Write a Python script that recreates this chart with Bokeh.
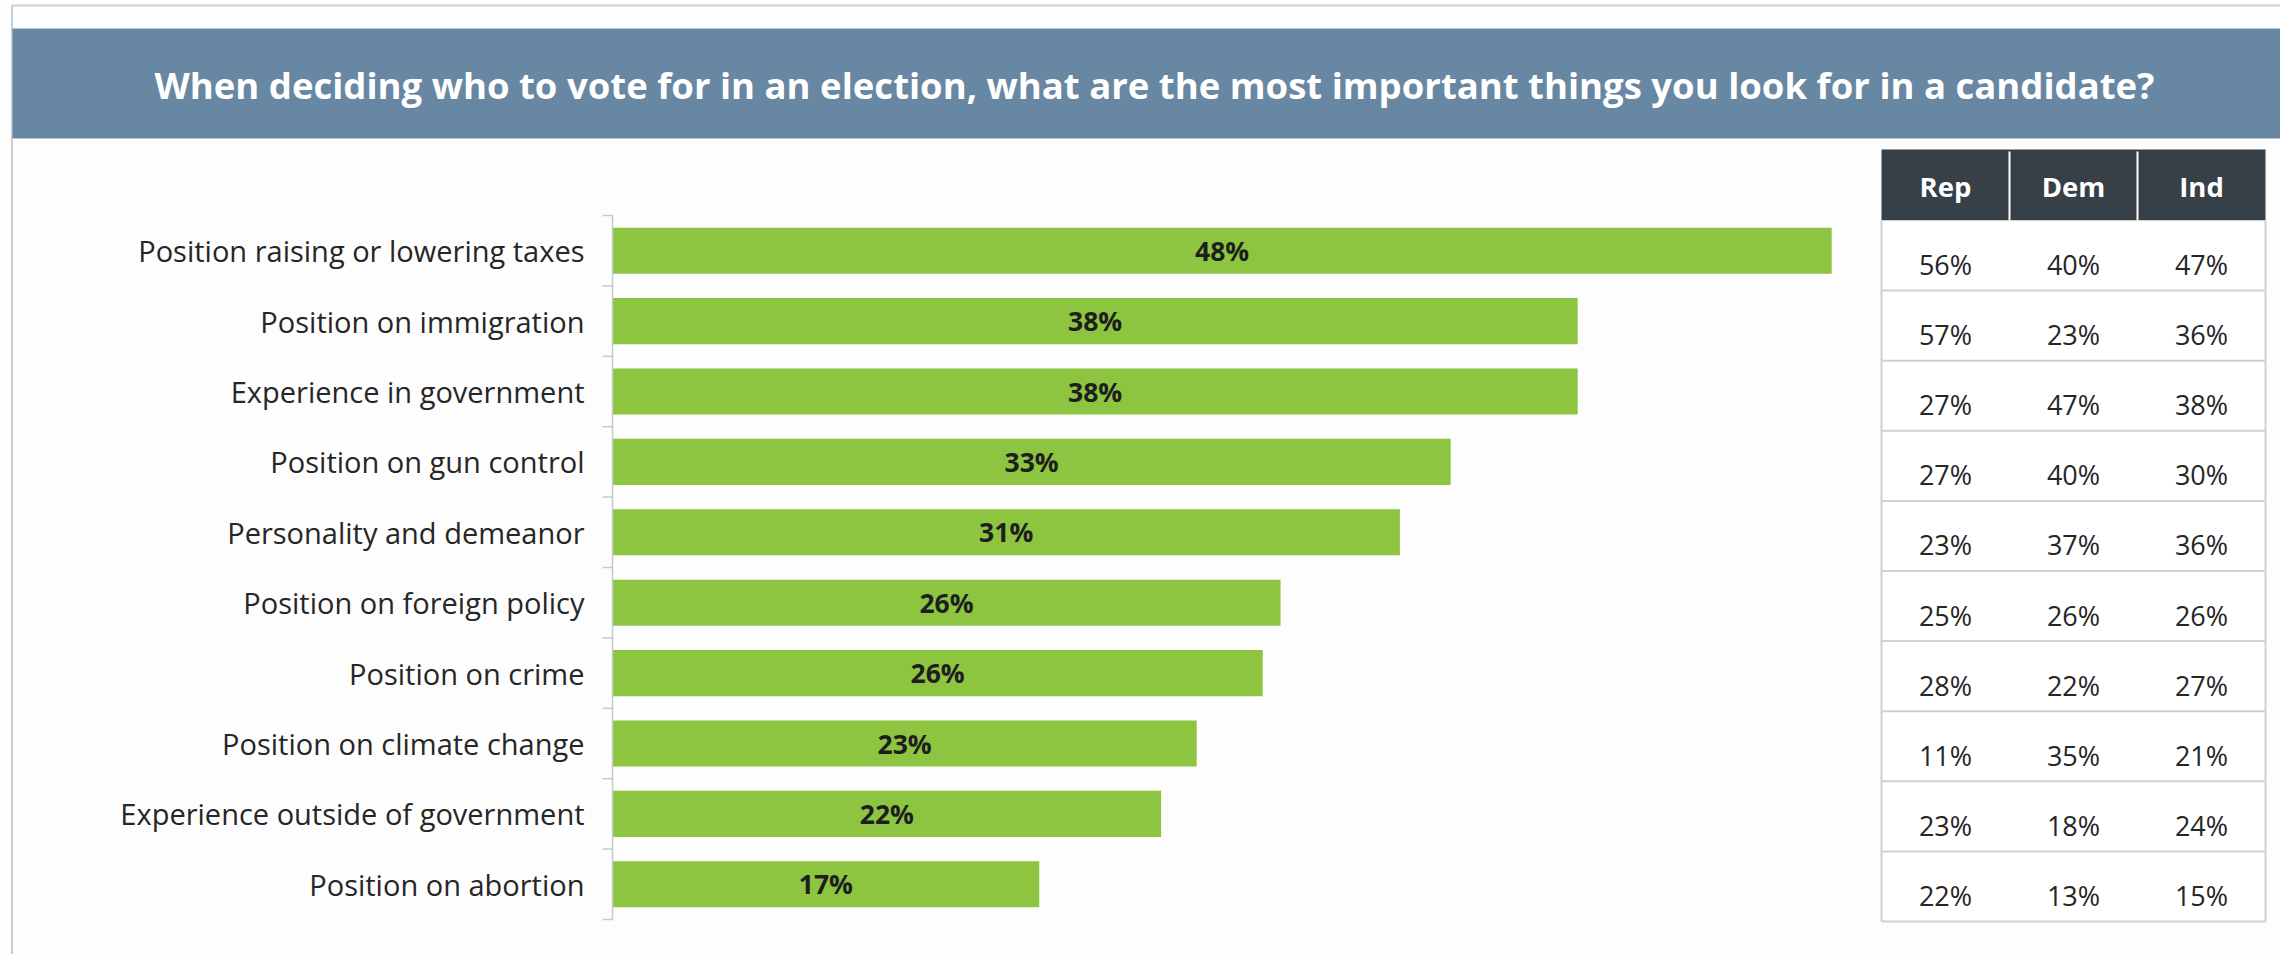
from bokeh.plotting import figure
from bokeh.models import Range1d, ColumnDataSource
from bokeh.core.properties import value
from bokeh.embed import file_html
from bokeh.resources import INLINE

# ---------------- data ----------------
title = ("When deciding who to vote for in an election, what are the most "
         "important things you look for in a candidate?")
categories = [
    "Position raising or lowering taxes",
    "Position on immigration",
    "Experience in government",
    "Position on gun control",
    "Personality and demeanor",
    "Position on foreign policy",
    "Position on crime",
    "Position on climate change",
    "Experience outside of government",
    "Position on abortion",
]
overall = [48, 38, 38, 33, 31, 26.3, 25.6, 23, 21.6, 16.8]
table_columns = ["Rep", "Dem", "Ind"]
rep = [56, 57, 27, 27, 23, 25, 28, 11, 23, 22]
dem = [40, 23, 47, 40, 37, 26, 22, 35, 18, 13]
ind = [47, 36, 38, 30, 36, 26, 27, 21, 24, 15]

# ---------------- layout constants (canvas pixels) ----------------
W, H = 2280, 954
AX_X = 612            # x of the bar axis (value 0)
PX_PER_PCT = 25.4     # pixels per percentage point
ROW_TOP = 215
ROW_H = 70.4
BAR_FRAC = 0.655
LABEL_X = 584
FONT = value("Open Sans")

TBL_L = 1881
TBL_CW = 128
TBL_HEAD_T = 149
TBL_HEAD_B = 220
TBL_ROW_H = 70.1

N = len(categories)

p = figure(width=W, height=H, output_backend="svg", toolbar_location=None,
           x_range=Range1d(0, W), y_range=Range1d(H, 0),
           x_axis_type=None, y_axis_type=None, min_border=0)
p.grid.visible = False
p.outline_line_color = None
p.background_fill_color = "#FDFDFD"
p.border_fill_color = "#FDFDFD"

p.extra_x_ranges = {"pct": Range1d(-AX_X / PX_PER_PCT, (W - AX_X) / PX_PER_PCT)}
p.extra_y_ranges = {"row": Range1d((H - ROW_TOP) / ROW_H - 0.5, -ROW_TOP / ROW_H - 0.5)}

# outer frame lines
p.segment(x0=[11.5, 11.5], y0=[5, 5], x1=[W, 11.5], y1=[5, H],
          line_color="#C6CDD6", line_width=2)

# title banner
p.quad(left=12, right=W, top=28, bottom=138, fill_color="#6887A3", line_color=None)
p.text(x=[1154], y=[84], text=[title], text_font=FONT, text_font_size="36.5px",
       text_font_style="bold", text_color="white", text_align="center",
       text_baseline="middle")

# bars
rows = list(range(N))
src = ColumnDataSource(dict(
    row=rows, cat=categories, val=overall,
    mid=[v / 2 for v in overall],
    lab=[f"{round(v)}%" for v in overall],
))
p.hbar(y="row", left=0, right="val", height=BAR_FRAC, source=src,
       fill_color="#8DC540", line_color=None,
       x_range_name="pct", y_range_name="row")
p.text(x="mid", y="row", text="lab", source=src, text_font=FONT,
       text_font_size="26.5px", text_font_style="bold", text_color="#1E1E1E",
       text_align="center", text_baseline="middle",
       x_range_name="pct", y_range_name="row")

# category labels
p.text(x=LABEL_X, y="row", text="cat", source=src, text_font=FONT,
       text_font_size="29px", text_color="#262626", text_align="right",
       text_baseline="middle", y_range_name="row")

# axis line + boundary ticks
p.segment(x0=[AX_X], y0=[ROW_TOP], x1=[AX_X], y1=[ROW_TOP + N * ROW_H],
          line_color="#C3C9D0", line_width=1.5)
tick_y = [ROW_TOP + i * ROW_H for i in range(N + 1)]
p.segment(x0=[AX_X - 10] * (N + 1), y0=tick_y, x1=[AX_X] * (N + 1), y1=tick_y,
          line_color="#C3C9D0", line_width=1.5)

# table header
ncol = len(table_columns)
TBL_R = TBL_L + ncol * TBL_CW
p.quad(left=TBL_L, right=TBL_R, top=TBL_HEAD_T, bottom=TBL_HEAD_B,
       fill_color="#373F47", line_color=None)
div_x = [TBL_L + j * TBL_CW for j in range(1, ncol)]
p.segment(x0=div_x, y0=[TBL_HEAD_T + 2] * len(div_x), x1=div_x,
          y1=[TBL_HEAD_B] * len(div_x), line_color="white", line_width=2)
col_x = [TBL_L + (j + 0.5) * TBL_CW for j in range(ncol)]
p.text(x=col_x, y=[(TBL_HEAD_T + TBL_HEAD_B) / 2 + 1] * ncol, text=table_columns,
       text_font=FONT, text_font_size="27.5px", text_font_style="bold",
       text_color="white", text_align="center", text_baseline="middle")

# table body
body_bottom = TBL_HEAD_B + N * TBL_ROW_H
line_y = [TBL_HEAD_B + (i + 1) * TBL_ROW_H for i in range(N)]
p.quad(left=TBL_L, right=TBL_R, top=TBL_HEAD_B, bottom=body_bottom,
       fill_color="white", line_color=None)
p.segment(x0=[TBL_L] * N, y0=line_y, x1=[TBL_R] * N, y1=line_y,
          line_color="#CBD2D9", line_width=2)
p.segment(x0=[TBL_L, TBL_R], y0=[TBL_HEAD_B, TBL_HEAD_B], x1=[TBL_L, TBL_R],
          y1=[body_bottom, body_bottom], line_color="#CBD2D9", line_width=2)

cell_x, cell_y, cell_t = [], [], []
for j, series in enumerate([rep, dem, ind]):
    for i, v in enumerate(series):
        cell_x.append(col_x[j])
        cell_y.append(TBL_HEAD_B + (i + 0.5) * TBL_ROW_H + 9)
        cell_t.append(f"{v}%")
p.text(x=cell_x, y=cell_y, text=cell_t, text_font=FONT, text_font_size="27px",
       text_color="#262626", text_align="center", text_baseline="middle")

open("out.html", "w").write(file_html(p, INLINE))
